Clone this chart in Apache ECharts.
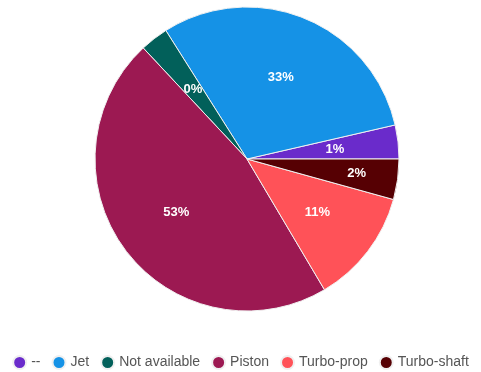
<!DOCTYPE html>
<html>
<head>
<meta charset="utf-8">
<script src="https://cdn.jsdelivr.net/npm/echarts@6/dist/echarts.min.js"></script>
<style>
  html, body { margin: 0; padding: 0; background: #fff; }
  #main { width: 481px; height: 372px; }
</style>
</head>
<body>
<div id="main"></div>
<script>
// data
var categories = ["--", "Jet", "Not available", "Piston", "Turbo-prop", "Turbo-shaft"]
var values = [3.6, 30.4, 3.0, 46.6, 12.2, 4.3]
var percentLabels = ["1%", "33%", "0%", "53%", "11%", "2%"]
var colors = ["#6a2bcb", "#1592e6", "#02605a", "#9c1952", "#ff5258", "#560003"]

var cx = 247, cy = 159

var myChart = echarts.init(document.getElementById("main"))
var option = {
  color: colors,
  legend: {
    top: 350,
    left: "center",
    icon: "circle",
    itemWidth: 13,
    itemHeight: 13,
    itemGap: 11,
    textStyle: {
      color: "#555",
      fontSize: 14,
      fontFamily: "Liberation Sans, Arial"
    },
    data: categories
  },
  series: [
    {
      name: "Engine type",
      type: "pie",
      center: [cx, cy],
      radius: 152,
      startAngle: 0,
      clockwise: false,
      avoidLabelOverlap: false,
      itemStyle: {
        borderColor: "#f0f0f0",
        borderWidth: 1
      },
      label: {
        show: true,
        position: "inside",
        color: "#fff",
        fontSize: 13,
        fontWeight: "bold",
        fontFamily: "Liberation Sans, Arial",
        formatter: function (p) {
          return percentLabels[p.dataIndex]
        }
      },
      // push the inside labels a bit further out, like the original
      labelLayout: function (p) {
        var r = p.labelRect
        var lx = r.x + r.width / 2
        var ly = r.y + r.height / 2
        var k = p.dataIndex === 5 ? 1.4 : 1.12
        return { x: cx + (lx - cx) * k, y: cy + (ly - cy) * k }
      },
      labelLine: { show: false },
      emphasis: { scale: false },
      data: categories.map(function (name, i) {
        return { name: name, value: values[i] }
      })
    }
  ]
}
myChart.setOption(option)
</script>
</body>
</html>
